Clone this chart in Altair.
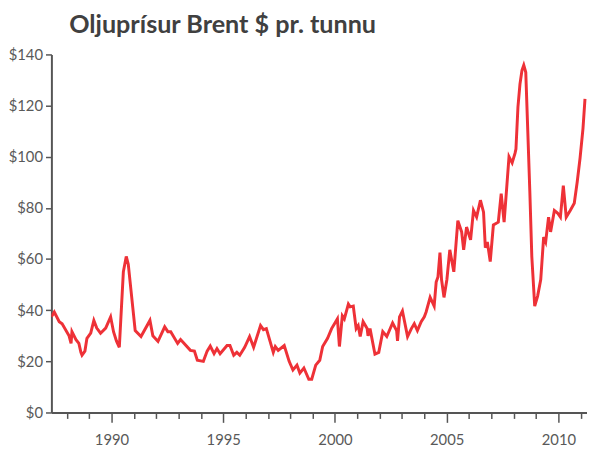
import altair as alt
import pandas as pd

years = [
    1987.31, 1987.44, 1987.66, 1987.79, 1988.10, 1988.19, 1988.23, 1988.41, 1988.54, 1988.63,
    1988.68, 1988.81, 1988.90, 1989.07, 1989.21, 1989.34, 1989.51, 1989.74, 1989.96, 1990.09,
    1990.22, 1990.35, 1990.53, 1990.66, 1990.75, 1991.06, 1991.32, 1991.72, 1991.85, 1992.08,
    1992.38, 1992.52, 1992.65, 1992.96, 1993.09, 1993.53, 1993.71, 1993.84, 1994.11, 1994.28,
    1994.42, 1994.59, 1994.72, 1994.86, 1995.17, 1995.30, 1995.47, 1995.61, 1995.74, 1995.96,
    1996.18, 1996.36, 1996.67, 1996.80, 1996.93, 1997.24, 1997.33, 1997.46, 1997.73, 1997.95,
    1998.12, 1998.30, 1998.43, 1998.61, 1998.83, 1998.96, 1999.14, 1999.32, 1999.45, 1999.67,
    1999.85, 2000.11, 2000.20, 2000.33, 2000.42, 2000.60, 2000.68, 2000.82, 2000.95, 2001.04,
    2001.13, 2001.26, 2001.44, 2001.48, 2001.57, 2001.79, 2001.96, 2002.14, 2002.32, 2002.58,
    2002.76, 2002.80, 2002.89, 2003.02, 2003.25, 2003.42, 2003.55, 2003.69, 2003.86, 2004.00,
    2004.08, 2004.26, 2004.44, 2004.53, 2004.61, 2004.70, 2004.77, 2004.88, 2005.01, 2005.14,
    2005.32, 2005.50, 2005.67, 2005.76, 2005.89, 2006.07, 2006.20, 2006.34, 2006.51, 2006.65,
    2006.73, 2006.82, 2006.95, 2007.09, 2007.31, 2007.44, 2007.57, 2007.70, 2007.79, 2007.93,
    2008.06, 2008.10, 2008.19, 2008.28, 2008.37, 2008.45, 2008.54, 2008.63, 2008.72, 2008.81,
    2008.94, 2009.07, 2009.21, 2009.34, 2009.43, 2009.56, 2009.65, 2009.82, 2009.96, 2010.09,
    2010.22, 2010.35, 2010.53, 2010.71, 2010.84, 2010.97, 2011.10, 2011.19,
]

prices = [
    37.4, 39.3, 35.5, 34.7, 30.0, 27.0, 31.6, 28.5, 27.0, 23.5,
    22.4, 24.0, 29.0, 31.0, 36.0, 33.0, 31.0, 33.0, 37.4, 31.6,
    28.0, 25.5, 55.0, 61.0, 58.0, 32.0, 29.7, 36.0, 30.0, 27.8,
    33.5, 31.6, 31.6, 27.0, 28.5, 24.3, 24.0, 20.4, 20.0, 24.0,
    26.0, 23.0, 25.0, 23.0, 26.2, 26.2, 22.4, 23.5, 22.4, 25.5,
    29.7, 25.5, 34.0, 32.4, 32.8, 23.5, 25.8, 24.3, 26.2, 20.0,
    16.6, 18.5, 15.4, 17.4, 13.0, 13.0, 18.5, 20.4, 25.8, 29.0,
    32.8, 36.6, 25.8, 37.8, 36.6, 42.4, 41.3, 41.6, 32.8, 34.0,
    29.7, 35.5, 32.8, 30.0, 32.8, 22.8, 23.5, 31.6, 29.7, 35.0,
    32.0, 28.0, 37.4, 39.7, 29.7, 32.8, 34.7, 32.0, 35.5, 37.4,
    39.3, 45.0, 41.6, 51.0, 53.0, 62.5, 52.0, 45.0, 52.0, 63.6,
    55.0, 75.0, 70.6, 63.6, 72.5, 67.5, 79.0, 76.4, 83.0, 78.3,
    64.4, 66.7, 59.0, 73.3, 74.4, 85.6, 74.4, 89.5, 100.0, 97.6,
    101.4, 103.0, 119.5, 128.4, 133.8, 135.8, 133.0, 110.0, 86.8, 61.0,
    41.6, 45.5, 52.0, 68.6, 66.7, 76.4, 70.6, 79.0, 78.0, 76.4,
    88.7, 76.4, 79.0, 81.8, 90.0, 99.5, 111.0, 122.6,
]

y_ticks = [0, 20, 40, 60, 80, 100, 120, 140]
x_ticks = list(range(1988, 2012))
title_text = "Oljuprísur Brent $ pr. tunnu"

df = pd.DataFrame({"year": years, "price": prices})

axis_color = "#555555"
label_color = "#595959"

chart = (
    alt.Chart(df)
    .mark_line(color="#EE3137", strokeWidth=3, clip=True)
    .encode(
        x=alt.X(
            "year:Q",
            scale=alt.Scale(domain=[1987.31, 2011.28], nice=False, zero=False),
            axis=alt.Axis(
                title=None,
                values=x_ticks,
                labelExpr="datum.value % 5 === 0 ? '' + datum.value : ''",
                grid=False,
                domainColor=axis_color,
                domainWidth=2,
                tickColor=axis_color,
                tickWidth=1.5,
                tickSize={"condition": {"test": "datum.value % 5 === 0", "value": 10}, "value": 6},
                labelFont="Lato",
                labelFontSize=15,
                labelColor=label_color,
                labelPadding=10,
                labelFlush=False,
            ),
        ),
        y=alt.Y(
            "price:Q",
            scale=alt.Scale(domain=[0, 140], nice=False),
            axis=alt.Axis(
                title=None,
                values=y_ticks,
                labelExpr="'$' + datum.value",
                grid=False,
                domainColor=axis_color,
                domainWidth=2,
                tickColor=axis_color,
                tickWidth=1.5,
                tickSize=6,
                labelFont="Lato",
                labelFontSize=15,
                labelColor=label_color,
                labelPadding=3,
            ),
        ),
    )
    .properties(
        width=543,
        height=363,
        padding={"left": 44, "top": 44, "right": 0, "bottom": 38},
        autosize=alt.AutoSizeParams(type="none"),
        title=alt.TitleParams(
            text=title_text,
            anchor="start",
            frame="group",
            dx=18,
            offset=9,
            font="Lato",
            fontSize=25.5,
            fontWeight="bold",
            color="#404040",
        ),
    )
    .configure_view(stroke=None)
)

chart.save("out.html", embed_options={"renderer": "svg", "actions": False})
